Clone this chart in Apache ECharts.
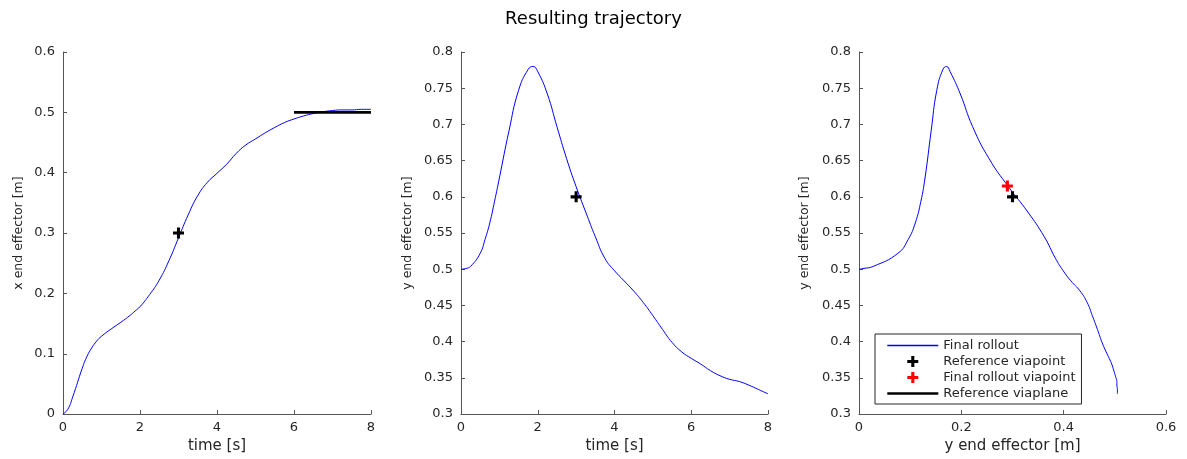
<!DOCTYPE html>
<html><head><meta charset="utf-8">
<script src="https://cdn.jsdelivr.net/npm/echarts@6/dist/echarts.min.js"></script>
<style>html,body{margin:0;padding:0;background:#fff}#c{width:1187px;height:459px}</style>
</head><body><div id="c"></div>
<script>
// ---- data ----
const time = [0,0.125,0.25,0.5,0.625,0.75,0.875,1,1.25,1.5,1.75,1.875,2,2.25,2.5,2.75,3,3.25,3.5,3.75,4,4.25,4.5,4.75,5,5.25,5.5,5.75,6,6.25,6.5,6.75,7,7.25,7.5,7.75,8];
const xEnd = [0.000,0.008,0.028,0.076,0.096,0.110,0.121,0.129,0.141,0.152,0.164,0.171,0.178,0.198,0.222,0.254,0.292,0.330,0.362,0.384,0.399,0.414,0.432,0.446,0.456,0.466,0.475,0.483,0.489,0.494,0.498,0.501,0.503,0.504,0.504,0.505,0.505];
const yEnd = [0.500,0.501,0.504,0.522,0.541,0.564,0.594,0.626,0.691,0.747,0.776,0.780,0.773,0.742,0.697,0.653,0.614,0.579,0.545,0.515,0.498,0.484,0.470,0.454,0.436,0.417,0.399,0.386,0.377,0.369,0.360,0.353,0.348,0.345,0.340,0.334,0.328];
const refViapointT = 3;
const refViapointX = 0.3;
const refViapointY = 0.6;
const finalViapointX = 0.29;
const finalViapointY = 0.615;
const viaplaneT = [6, 8];
const viaplaneX = 0.5;
const seriesNames = ['Final rollout','Reference viapoint','Final rollout viapoint','Reference viaplane'];
const titleText = 'Resulting trajectory';
const xNames = ['time [s]','time [s]','y end effector [m]'];
const yNames = ['x end effector [m]','y end effector [m]','y end effector [m]'];

// ---- chart ----
const FONT = 'DejaVu Sans';
const TXT = '#262626';
const BLUE = '#0000ff';
const PLUS = 'path://M3.6,0H6.4V3.6H10V6.4H6.4V10H3.6V6.4H0V3.6H3.6Z';
const grids = [
  {left:63, top:52, width:308, height:363},
  {left:461, top:52, width:307, height:363},
  {left:859, top:52, width:307, height:363}
];
const fmt = v => String(Math.round(v*100)/100);
function xAxis(i, min, max, interval){
  return {type:'value', gridIndex:i, min, max, interval,
    name:xNames[i], nameLocation:'middle', nameGap:24,
    nameTextStyle:{fontFamily:FONT, fontSize:15, color:TXT},
    axisLine:{show:true, lineStyle:{color:'#555', width:1}},
    axisTick:{show:true, inside:true, length:4, lineStyle:{color:'#555'}},
    axisLabel:{fontFamily:FONT, fontSize:13, color:TXT, margin:7, formatter:fmt},
    splitLine:{show:false}};
}
function yAxis(i, min, max, interval, gap){
  return {type:'value', gridIndex:i, min, max, interval,
    name:yNames[i], nameLocation:'middle', nameGap:gap, nameRotate:90,
    nameTextStyle:{fontFamily:FONT, fontSize:12.5, color:TXT},
    axisLine:{show:true, lineStyle:{color:'#555', width:1}},
    axisTick:{show:true, inside:true, length:4, lineStyle:{color:'#555'}},
    axisLabel:{fontFamily:FONT, fontSize:13, color:TXT, margin:8, formatter:fmt},
    splitLine:{show:false}};
}
const lineS = (xi, data) => ({name:seriesNames[0], type:'line', xAxisIndex:xi, yAxisIndex:xi, data,
  showSymbol:false, symbol:'none', smooth:0.5, color:BLUE, lineStyle:{color:BLUE, width:1}, itemStyle:{color:BLUE}, z:2, silent:true});
const plusS = (xi, name, data, color) => ({name, type:'scatter', xAxisIndex:xi, yAxisIndex:xi, data,
  symbol:PLUS, symbolSize:11, symbolKeepAspect:true, itemStyle:{color, opacity:1}, z:5, silent:true});

const option = {
  animation:false,
  backgroundColor:'#fff',
  title:{text:titleText, left:'center', top:5, textStyle:{fontFamily:FONT, fontSize:18, fontWeight:'normal', color:'#000'}},
  grid:grids,
  xAxis:[xAxis(0,0,8,2), xAxis(1,0,8,2), xAxis(2,0,0.6,0.2)],
  yAxis:[yAxis(0,0,0.6,0.1,38), yAxis(1,0.3,0.8,0.05,47), yAxis(2,0.3,0.8,0.05,48)],
  legend:{orient:'vertical', left:875, top:334, padding:[4,6,3,11], itemGap:1, itemWidth:51, itemHeight:11,
    backgroundColor:'#fff', borderColor:'#262626', borderWidth:1, borderRadius:0,
    textStyle:{fontFamily:FONT, fontSize:13, color:TXT, lineHeight:15}, selectedMode:false,
    data:[
      {name:seriesNames[0], itemStyle:{opacity:0}, lineStyle:{width:1.3}},
      {name:seriesNames[1], itemStyle:{color:'#000', opacity:1}},
      {name:seriesNames[2], itemStyle:{color:'#ff0000', opacity:1}},
      {name:seriesNames[3], itemStyle:{opacity:0}, lineStyle:{width:2.6}}
    ]},
  series:[
    lineS(0, time.map((t,i)=>[t, xEnd[i]])),
    {name:seriesNames[3], type:'line', xAxisIndex:0, yAxisIndex:0, data:viaplaneT.map(t=>[t, viaplaneX]),
      showSymbol:false, symbol:'none', color:'#000', lineStyle:{color:'#000', width:2.6}, itemStyle:{color:'#000'}, z:4, silent:true},
    plusS(0, seriesNames[1], [[refViapointT, refViapointX]], '#000'),
    lineS(1, time.map((t,i)=>[t, yEnd[i]])),
    plusS(1, seriesNames[1], [[refViapointT, refViapointY]], '#000'),
    lineS(2, xEnd.map((x,i)=>[x, yEnd[i]])),
    plusS(2, seriesNames[1], [[refViapointX, refViapointY]], '#000'),
    plusS(2, seriesNames[2], [[finalViapointX, finalViapointY]], '#ff0000')
  ]
};
const chart = echarts.init(document.getElementById('c'), null, {renderer:'canvas'});
chart.setOption(option);
</script></body></html>
